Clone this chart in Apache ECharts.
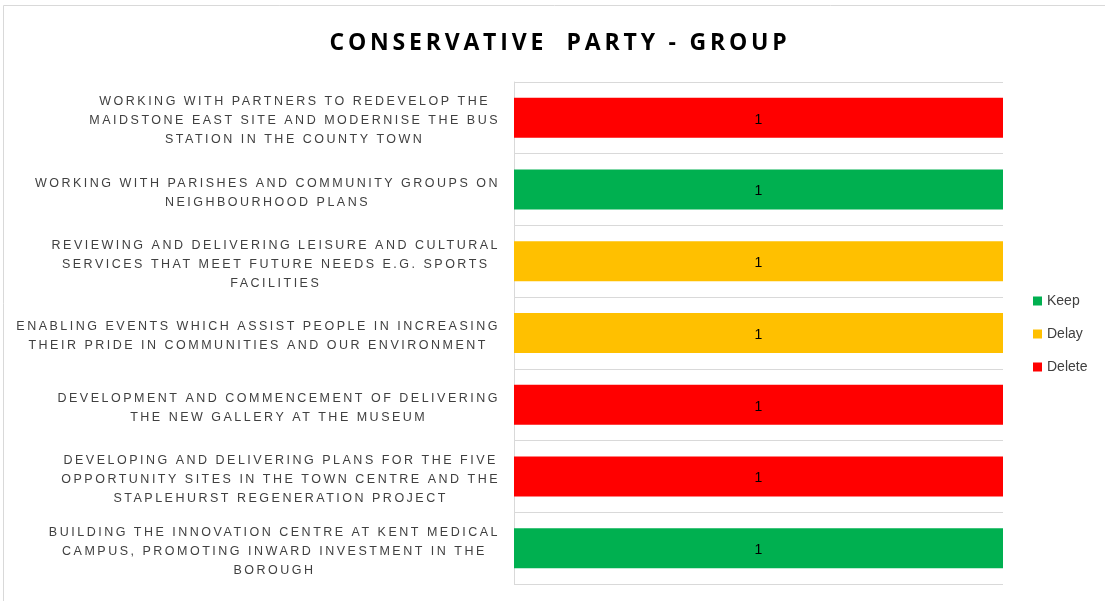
<!DOCTYPE html>
<html><head><meta charset="utf-8">
<script src="https://cdn.jsdelivr.net/npm/echarts@6/dist/echarts.min.js"></script>
<style>html,body{margin:0;padding:0;background:#fff}#c{width:1105px;height:601px}</style>
</head><body><div id="c"></div>
<script>
// letter spacing support: font families carrying a "spNN" marker get NN/10 px spacing
(function(){
  var proto = CanvasRenderingContext2D.prototype;
  ['fillText','strokeText','measureText'].forEach(function(n){
    var orig = proto[n];
    proto[n] = function(){
      var m = /sp(\d+)/.exec(this.font);
      try { this.letterSpacing = m ? (m[1]/10) + 'px' : '0px'; } catch(e) {}
      return orig.apply(this, arguments);
    };
  });
})();

const categories = [
  'WORKING WITH PARTNERS TO REDEVELOP THE\nMAIDSTONE EAST SITE AND MODERNISE THE BUS\nSTATION IN THE COUNTY TOWN',
  'WORKING WITH PARISHES AND COMMUNITY GROUPS ON\nNEIGHBOURHOOD PLANS',
  'REVIEWING AND DELIVERING LEISURE AND CULTURAL\nSERVICES THAT MEET FUTURE NEEDS E.G. SPORTS\nFACILITIES',
  'ENABLING EVENTS WHICH ASSIST PEOPLE IN INCREASING\nTHEIR PRIDE IN COMMUNITIES AND OUR ENVIRONMENT',
  'DEVELOPMENT AND COMMENCEMENT OF DELIVERING\nTHE NEW GALLERY AT THE MUSEUM',
  'DEVELOPING AND DELIVERING PLANS FOR THE FIVE\nOPPORTUNITY SITES IN THE TOWN CENTRE AND THE\nSTAPLEHURST REGENERATION PROJECT',
  'BUILDING THE INNOVATION CENTRE AT KENT MEDICAL\nCAMPUS, PROMOTING INWARD INVESTMENT IN THE\nBOROUGH'
];
const status = ['Delete','Keep','Delay','Delay','Delete','Delete','Keep'];
const values = [1,1,1,1,1,1,1];
const seriesNames = ['Keep','Delay','Delete'];
const seriesColors = ['#00B050','#FFC000','#FF0000'];

const series = seriesNames.map(function(name, k){
  return {
    name: name, type: 'bar', stack: 'total', barWidth: 40,
    itemStyle: {color: seriesColors[k]},
    label: {show: true, position: 'inside', color: '#000', fontSize: 14, fontFamily: 'Liberation Sans', offset: [0, 2]},
    data: values.map(function(v, i){ return status[i] === name ? v : '-'; })
  };
});

const chart = echarts.init(document.getElementById('c'), null, {renderer: 'canvas'});
chart.setOption({
  animation: false,
  title: {
    text: 'CONSERVATIVE  PARTY - GROUP', left: 560, top: 30, textAlign: 'center', padding: 0,
    textStyle: {fontSize: 23, fontWeight: 'bold', color: '#000', fontFamily: 'Open Sans, sp38'}
  },
  legend: {
    orient: 'vertical', left: 1028, top: 289, itemWidth: 9, itemHeight: 9, itemGap: 19,
    icon: 'rect',
    textStyle: {fontSize: 14, color: '#404040', fontFamily: 'Liberation Sans'},
    data: seriesNames
  },
  graphic: [{type: 'rect', silent: true, shape: {x: 3.5, y: 5.5, width: 1300, height: 700},
    style: {fill: 'none', stroke: '#d9d9d9', lineWidth: 1}}],
  grid: {left: 514, right: 102, top: 82, bottom: 17, containLabel: false},
  xAxis: {type: 'value', min: 0, max: 1, show: false},
  yAxis: {
    type: 'category', inverse: true, data: categories,
    axisLine: {show: true, lineStyle: {color: '#d9d9d9'}},
    axisTick: {show: false},
    splitLine: {show: true, lineStyle: {color: '#d9d9d9'}},
    axisLabel: {
      margin: 14, align: 'right', padding: [6, 0, 0, 0],
      formatter: function(v){ return v.split('\n').map(function(l){ return '{c|' + l + '}'; }).join('\n'); },
      rich: {c: {align: 'center', fontSize: 12.5, lineHeight: 19, color: '#404040', fontFamily: 'Liberation Sans, sp25'}}
    }
  },
  series: series
});
</script></body></html>
